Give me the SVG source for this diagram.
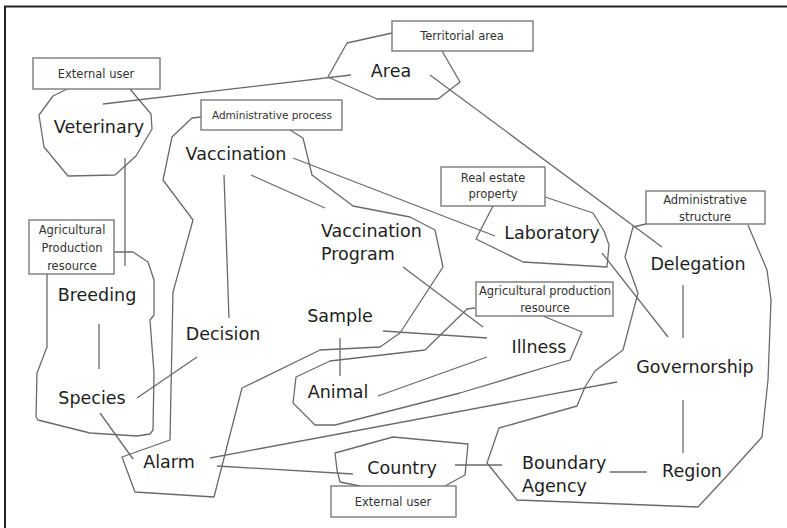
<svg xmlns="http://www.w3.org/2000/svg" width="787" height="528" viewBox="0 0 787 528">
  <style>
    .frame { fill: none; stroke: #222; stroke-width: 2; }
    .edge { stroke: #6a6a6a; stroke-width: 1.3; fill: none; }
    .hull { stroke: #6a6a6a; stroke-width: 1.3; fill: none; stroke-linejoin: round; }
    .tag { fill: #fff; stroke: #7a7a7a; stroke-width: 1.4; }
    .tagtext { font-family: "DejaVu Sans", "Liberation Sans", sans-serif; font-size: 11.5px; fill: #333; text-anchor: middle; }
    .small { font-size: 10.5px; }
    .label { font-family: "DejaVu Sans", "Liberation Sans", sans-serif; font-size: 17.5px; fill: #1e1e1e; text-anchor: middle; }
    .left { text-anchor: start; }
  </style>
  <rect width="787" height="528" fill="#fff"/>
  <rect class="frame" x="5" y="6.5" width="800" height="540"/>

  <!-- category outlines with their tag boxes -->
  <g id="territorial-area">
    <polyline class="hull" points="392,33 347,43 328,77 377,99 438,99 460,82 442,51"/>
    <rect class="tag" x="392" y="21" width="141" height="30"/>
    <text class="tagtext" x="462" y="40">Territorial area</text>
  </g>
  <g id="external-user-top">
    <polyline class="hull" points="67,89 53,96 39,115 44,147 68,176 115,175 136,156 152,129 151,114 130,89"/>
    <rect class="tag" x="33" y="58" width="127" height="31"/>
    <text class="tagtext" x="96" y="78">External user</text>
  </g>
  <g id="administrative-process">
    <polyline class="hull" points="290,130 303,138 312,175 353,206 410,217 435,230 443,267 400,333 380,347 320,350 242,388 214,497 135,492 122,457 170,440 173,292 193,220 163,180 172,137 192,118 201,117"/>
    <rect class="tag" x="201" y="100" width="141" height="30"/>
    <text class="tagtext small" x="272" y="119">Administrative  process</text>
  </g>
  <g id="agricultural-production-resource-left">
    <polyline class="hull" points="114,252 133,252 148,262 154,280 154,315 150,320 152,347 154,373 153,430 150,434 137,436 90,433 38,420 36,417 37,373 47,347 47,274"/>
    <rect class="tag" x="29" y="220" width="85" height="54"/>
    <text class="tagtext" x="72" y="234">Agricultural</text>
    <text class="tagtext" x="72" y="252">Production</text>
    <text class="tagtext" x="72" y="270">resource</text>
  </g>
  <g id="real-estate-property">
    <polyline class="hull" points="545,197 593,213 604,231 609,245 607,267 523,262 476,239 493,206"/>
    <rect class="tag" x="441" y="167" width="104" height="39"/>
    <text class="tagtext" x="493" y="182">Real estate</text>
    <text class="tagtext" x="493" y="198">property</text>
  </g>
  <g id="agricultural-production-resource-mid">
    <polyline class="hull" points="475,308 467,309 463,313 425,350 330,361 296,377 293,403 315,425 335,425 460,393 563,362 570,360 582,332 543,316"/>
    <rect class="tag" x="476" y="282" width="137" height="34"/>
    <text class="tagtext" x="545" y="295">Agricultural production</text>
    <text class="tagtext" x="545" y="312">resource</text>
  </g>
  <g id="administrative-structure">
    <polyline class="hull" points="646,224 633,227 625,257 638,293 623,350 595,371 585,387 577,406 499,428 487,463 517,500 698,507 725,478 762,437 768,380 771,300 767,270 748,225"/>
    <rect class="tag" x="646" y="191" width="119" height="33"/>
    <text class="tagtext" x="705" y="204">Administrative</text>
    <text class="tagtext" x="705" y="221">structure</text>
  </g>
  <g id="external-user-bottom">
    <polyline class="hull" points="445,486 465,475 468,444 393,437 335,453 337,470 340,482 360,486"/>
    <rect class="tag" x="331" y="486" width="125" height="31"/>
    <text class="tagtext" x="393" y="506">External user</text>
  </g>

  <!-- connectors -->
  <g id="connectors">
    <line class="edge" x1="103" y1="104" x2="351" y2="75"/>
    <line class="edge" x1="430" y1="75" x2="662" y2="247"/>
    <line class="edge" x1="125" y1="158" x2="125" y2="266"/>
    <line class="edge" x1="224" y1="175" x2="229" y2="318"/>
    <line class="edge" x1="251" y1="175" x2="325" y2="208"/>
    <line class="edge" x1="293" y1="158" x2="495" y2="236"/>
    <line class="edge" x1="403" y1="267" x2="483" y2="327"/>
    <line class="edge" x1="383" y1="331" x2="487" y2="338"/>
    <line class="edge" x1="340" y1="338" x2="340" y2="376"/>
    <line class="edge" x1="378" y1="396" x2="487" y2="357"/>
    <line class="edge" x1="602" y1="253" x2="668" y2="337"/>
    <line class="edge" x1="683" y1="285" x2="683" y2="338"/>
    <line class="edge" x1="683" y1="400" x2="683" y2="453"/>
    <line class="edge" x1="610" y1="472" x2="647" y2="472"/>
    <line class="edge" x1="455" y1="465" x2="502" y2="465"/>
    <line class="edge" x1="617" y1="382" x2="210" y2="458"/>
    <line class="edge" x1="217" y1="466" x2="353" y2="474"/>
    <line class="edge" x1="100" y1="413" x2="133" y2="459"/>
    <line class="edge" x1="197" y1="357" x2="137" y2="398"/>
    <line class="edge" x1="99" y1="324" x2="99" y2="369"/>
  </g>

  <!-- nodes -->
  <g id="area"><text class="label" x="391" y="77">Area</text></g>
  <g id="veterinary"><text class="label" x="99" y="133">Veterinary</text></g>
  <g id="vaccination"><text class="label" x="236" y="160">Vaccination</text></g>
  <g id="vaccination-program">
    <text class="label left" x="321" y="237">Vaccination</text>
    <text class="label left" x="321" y="260">Program</text>
  </g>
  <g id="laboratory"><text class="label" x="552" y="239">Laboratory</text></g>
  <g id="delegation"><text class="label" x="698" y="270">Delegation</text></g>
  <g id="breeding"><text class="label" x="97" y="301">Breeding</text></g>
  <g id="decision"><text class="label" x="223" y="340">Decision</text></g>
  <g id="sample"><text class="label" x="340" y="322">Sample</text></g>
  <g id="illness"><text class="label" x="539" y="353">Illness</text></g>
  <g id="governorship"><text class="label" x="695" y="373">Governorship</text></g>
  <g id="species"><text class="label" x="92" y="404">Species</text></g>
  <g id="animal"><text class="label" x="338" y="398">Animal</text></g>
  <g id="alarm"><text class="label" x="169" y="468">Alarm</text></g>
  <g id="country"><text class="label" x="402" y="474">Country</text></g>
  <g id="boundary-agency">
    <text class="label left" x="522" y="469">Boundary</text>
    <text class="label left" x="522" y="492">Agency</text>
  </g>
  <g id="region"><text class="label" x="692" y="477">Region</text></g>
</svg>
